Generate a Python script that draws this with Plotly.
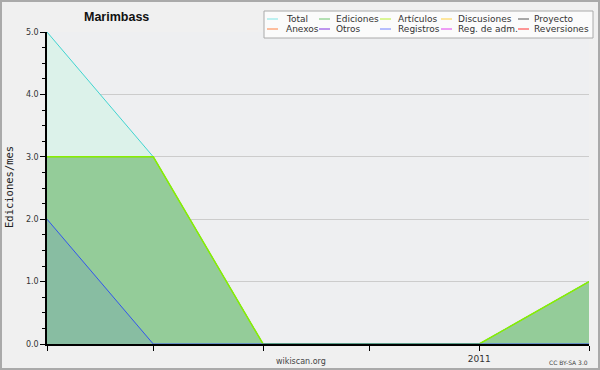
import plotly.graph_objects as go

months = ["2010-09-01", "2010-10-01", "2010-11-01", "2010-12-01", "2011-01-01", "2011-02-01"]
total = [5, 3, 0, 0, 0, 1]
ediciones = [3, 3, 0, 0, 0, 1]
articulos = [3, 3, 0, 0, 0, 1]
registros = [2, 0, 0, 0, 0, 0]
x_ticktext = ["", "", "", "", "2011", ""]
y_ticks = [0, 1, 2, 3, 4, 5]

legend_names = [["Total", "Ediciones", "Artículos", "Discusiones", "Proyecto"],
                ["Anexos", "Otros", "Registros", "Reg. de adm.", "Reversiones"]]
legend_colors = [["#7fe5e5", "#6cc46c", "#b8f030", "#ffd040", "#555555"],
                 ["#ff8040", "#8030e0", "#7080ff", "#e040f0", "#ff3030"]]

FONT = "DejaVu Sans"

fig = go.Figure()
fig.add_trace(go.Scatter(x=months, y=total, mode="lines", fill="tozeroy",
                         fillcolor="#dcf2ea", line=dict(color="#40d4d0", width=1)))
fig.add_trace(go.Scatter(x=months, y=ediciones, mode="lines", fill="tozeroy",
                         fillcolor="#94cc99", line=dict(color="#6cc46c", width=1)))
fig.add_trace(go.Scatter(x=months, y=articulos, mode="lines",
                         line=dict(color="#88ee00", width=1.5)))
fig.add_trace(go.Scatter(x=months, y=registros, mode="lines", fill="tozeroy",
                         fillcolor="rgba(50,80,230,0.12)", line=dict(color="#3355ee", width=1)))

def px(xp):
    return (xp - 47) / 542
def py(yp):
    return (344 - yp) / 312

shapes = [dict(type="rect", xref="paper", yref="paper", x0=px(1), x1=px(599),
               y0=py(369), y1=py(1), line=dict(color="#aaaaaa", width=2), layer="below")]
annotations = []

shapes.append(dict(type="rect", xref="paper", yref="paper", x0=px(264), x1=px(593),
                   y0=py(38), y1=py(11), line=dict(color="#aaaaaa", width=1), fillcolor="#fbfbfb"))
col_line_x = [267, 319, 380, 441, 518]
col_text_x = [284, 334, 396, 456, 532]
row_y = [19, 29]
for r in range(2):
    for c in range(5):
        shapes.append(dict(type="line", xref="paper", yref="paper",
                           x0=px(col_line_x[c]), x1=px(col_line_x[c] + 11),
                           y0=py(row_y[r]), y1=py(row_y[r]),
                           line=dict(color=legend_colors[r][c], width=1)))
        annotations.append(dict(text=legend_names[r][c], xref="paper", yref="paper",
                                x=px(col_text_x[c]), y=py(row_y[r]), xanchor="left", yanchor="middle",
                                showarrow=False, font=dict(family=FONT, size=9, color="#333333")))

annotations.append(dict(text="<b>Marimbass</b>", xref="paper", yref="paper", x=px(116), y=py(17),
                        xanchor="center", yanchor="middle", showarrow=False,
                        font=dict(family="Liberation Sans", size=12.5, color="#111111")))
annotations.append(dict(text="Ediciones/mes", xref="paper", yref="paper", x=px(9), y=py(187),
                        xanchor="center", yanchor="middle", textangle=-90, showarrow=False,
                        font=dict(family="DejaVu Sans Mono", size=10.5, color="#222222")))
annotations.append(dict(text="wikiscan.org", xref="paper", yref="paper", x=px(301), y=py(361),
                        xanchor="center", yanchor="middle", showarrow=False,
                        font=dict(family=FONT, size=8, color="#444444")))
annotations.append(dict(text="CC BY-SA 3.0", xref="paper", yref="paper", x=px(590), y=py(362),
                        xanchor="right", yanchor="middle", showarrow=False,
                        font=dict(family=FONT, size=6, color="#444444")))

fig.update_layout(
    width=600, height=370,
    margin=dict(l=47, r=11, t=32, b=26, autoexpand=False),
    paper_bgcolor="#f0f0f0", plot_bgcolor="#eeeff1",
    showlegend=False,
    shapes=shapes, annotations=annotations,
    font=dict(family=FONT, size=9, color="#333333"),
    xaxis=dict(type="date", range=[months[0], months[-1]], tickvals=months, ticktext=x_ticktext,
               ticks="outside", ticklen=5, tickcolor="#000000", showline=True, linecolor="#000000",
               linewidth=1.5, showgrid=False, zeroline=False, automargin=False, layer="above traces",
               tickfont=dict(size=9, color="#333333")),
    yaxis=dict(range=[0, 5], tickvals=y_ticks, tickformat=".1f", ticks="outside", ticklen=5,
               tickcolor="#000000", showline=True, linecolor="#000000", linewidth=1.5,
               showgrid=True, gridcolor="#cccccc", gridwidth=1, zeroline=False, automargin=False,
               layer="above traces",
               minor=dict(dtick=0.25, ticks="outside", ticklen=3, tickcolor="#000000", showgrid=False),
               tickfont=dict(size=8, color="#333333")),
)

fig.write_html("out.html")
